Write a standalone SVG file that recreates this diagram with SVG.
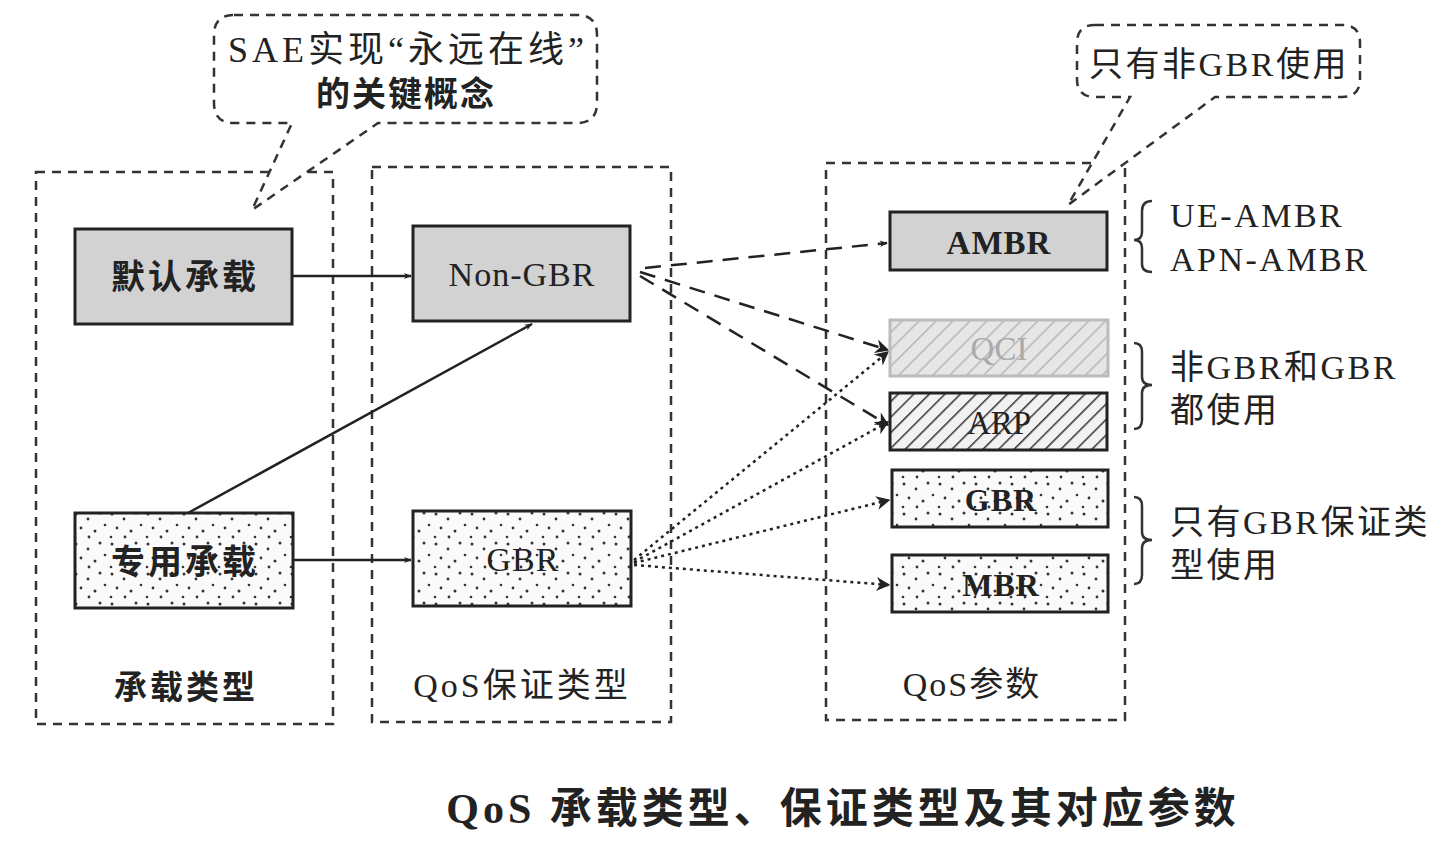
<svg xmlns="http://www.w3.org/2000/svg" width="1444" height="848" viewBox="0 0 1444 848">
<style>
.frame{fill:none;stroke:#333;stroke-width:2.5;stroke-dasharray:9 7}
.callout{fill:#fff;stroke:#333;stroke-width:2.5;stroke-dasharray:9 7}
.box{stroke:#222;stroke-width:3}
.gray{fill:#d2d2d2}
.t{font-family:"Liberation Serif","Noto Sans CJK SC",serif;fill:#222;text-anchor:middle}
.cn{font-family:"Noto Sans CJK SC","Liberation Serif",sans-serif;fill:#222;text-anchor:middle}
.lbl{font-family:"Liberation Serif","Noto Sans CJK SC",serif;fill:#222;font-size:34px;letter-spacing:2.5px}
.solid{stroke:#222;stroke-width:2.5;fill:none}
.dash{stroke:#222;stroke-width:2.5;fill:none;stroke-dasharray:16 10}
.dot{stroke:#222;stroke-width:2.5;fill:none;stroke-dasharray:3 4}
.brace{stroke:#333;stroke-width:2.5;fill:none}
</style>
<defs>
<marker id="ah" viewBox="0 0 10 10" refX="9" refY="5" markerWidth="8" markerHeight="8" markerUnits="userSpaceOnUse" orient="auto"><path d="M0,1 L10,5 L0,9 L3,5 Z" fill="#222"/></marker>
<marker id="ah2" viewBox="0 0 10 10" refX="9" refY="5" markerWidth="20" markerHeight="14" markerUnits="userSpaceOnUse" orient="auto"><path d="M0,0 L10,5 L0,10 L3,5 Z" fill="#222"/></marker>
<pattern id="hatchL" width="12" height="12" patternUnits="userSpaceOnUse" patternTransform="rotate(45)"><rect width="12" height="12" fill="#e6e6e6"/><line x1="0" y1="0" x2="0" y2="12" stroke="#b5b5b5" stroke-width="3"/></pattern>
<pattern id="hatchD" width="11" height="11" patternUnits="userSpaceOnUse" patternTransform="rotate(45)"><rect width="11" height="11" fill="#f2f2f2"/><line x1="0" y1="0" x2="0" y2="11" stroke="#333" stroke-width="3"/></pattern>
<pattern id="dots" width="36" height="30" patternUnits="userSpaceOnUse"><rect width="36" height="30" fill="#fafafa"/><circle cx="4" cy="4" r="1.5" fill="#333"/><circle cx="16" cy="9" r="1.4" fill="#333"/><circle cx="28" cy="3" r="1.5" fill="#333"/><circle cx="9" cy="18" r="1.4" fill="#333"/><circle cx="23" cy="21" r="1.5" fill="#333"/><circle cx="33" cy="15" r="1.3" fill="#333"/><circle cx="3" cy="27" r="1.3" fill="#333"/><circle cx="17" cy="27" r="1.4" fill="#333"/></pattern>
</defs>
<rect width="1444" height="848" fill="#fff"/>

<g id="frames">
<rect class="frame" x="36" y="172" width="297" height="552"/>
<rect class="frame" x="372" y="167" width="299" height="555"/>
<rect class="frame" x="826" y="163" width="299" height="557"/>
<text class="cn" x="186" y="699" font-size="33" font-weight="bold" letter-spacing="3">承载类型</text>
<text class="t" x="522" y="697" font-size="34" letter-spacing="3">QoS保证类型</text>
<text class="t" x="972" y="696" font-size="34" letter-spacing="2">QoS参数</text>
</g>

<g id="callout1">
<path class="callout" d="M234,15 H577 Q597,15 597,35 V103 Q597,123 577,123 H378 L252,210 L292,123 H234 Q214,123 214,103 V35 Q214,15 234,15 Z"/>
<text class="t" x="408" y="62" font-size="36" letter-spacing="4">SAE实现“永远在线”</text>
<text class="cn" x="406" y="106" font-size="34" font-weight="bold" letter-spacing="2">的关键概念</text>
</g>

<g id="callout2">
<path class="callout" d="M1095,25 H1342 Q1360,25 1360,43 V79 Q1360,97 1342,97 H1215 L1068,205 L1130,97 H1095 Q1077,97 1077,79 V43 Q1077,25 1095,25 Z"/>
<text class="t" x="1219" y="76" font-size="34" letter-spacing="2.5">只有非GBR使用</text>
</g>

<g id="connectors">
<line class="solid" x1="292" y1="276" x2="411" y2="276" marker-end="url(#ah)"/>
<line class="solid" x1="293" y1="560" x2="411" y2="560" marker-end="url(#ah)"/>
<line class="solid" x1="188" y1="513" x2="532" y2="324" marker-end="url(#ah)"/>
<line class="dash" x1="645" y1="268" x2="887" y2="243" marker-end="url(#ah)"/>
<line class="dash" x1="640" y1="272" x2="888" y2="350" marker-end="url(#ah2)"/>
<line class="dash" x1="640" y1="276" x2="888" y2="425" marker-end="url(#ah2)"/>
<line class="dot" x1="634" y1="560" x2="888" y2="352" marker-end="url(#ah2)"/>
<line class="dot" x1="634" y1="562" x2="888" y2="422" marker-end="url(#ah2)"/>
<line class="dot" x1="634" y1="563" x2="889" y2="500" marker-end="url(#ah2)"/>
<line class="dot" x1="634" y1="565" x2="889" y2="585" marker-end="url(#ah2)"/>
</g>

<g id="n-default">
<rect class="box gray" x="75" y="229" width="217" height="95"/>
<text class="cn" x="185" y="289" font-size="34" font-weight="bold" letter-spacing="3">默认承载</text>
</g>
<g id="n-dedicated">
<rect class="box" fill="url(#dots)" x="75" y="513" width="218" height="95"/>
<text class="cn" x="185" y="574" font-size="34" font-weight="bold" letter-spacing="3">专用承载</text>
</g>
<g id="n-nongbr">
<rect class="box gray" x="413" y="226" width="217" height="95"/>
<text class="t" x="522" y="286" font-size="34" letter-spacing="1">Non-GBR</text>
</g>
<g id="n-gbr">
<rect class="box" fill="url(#dots)" x="413" y="511" width="218" height="95"/>
<text class="t" x="523" y="571" font-size="34" letter-spacing="1">GBR</text>
</g>
<g id="p-ambr">
<rect class="box gray" x="890" y="212" width="217" height="58"/>
<text class="t" x="999" y="254" font-size="33" font-weight="bold" letter-spacing="1">AMBR</text>
</g>
<g id="p-qci">
<rect x="890" y="320" width="218" height="56" fill="url(#hatchL)" stroke="#bbb" stroke-width="3"/>
<text class="t" x="999" y="360" font-size="33" style="fill:#aaa">QCI</text>
</g>
<g id="p-arp">
<rect class="box" fill="url(#hatchD)" x="890" y="393" width="217" height="57"/>
<text class="t" x="999" y="434" font-size="33">ARP</text>
</g>
<g id="p-gbr">
<rect class="box" fill="url(#dots)" x="892" y="470" width="216" height="57"/>
<text class="t" x="1001" y="511" font-size="32" font-weight="bold" letter-spacing="1">GBR</text>
</g>
<g id="p-mbr">
<rect class="box" fill="url(#dots)" x="892" y="555" width="216" height="57"/>
<text class="t" x="1001" y="596" font-size="32" font-weight="bold" letter-spacing="1">MBR</text>
</g>

<g id="annotations">
<path class="brace" d="M1152,201 Q1142,201 1142,211 V232 Q1142,240 1134,240 Q1142,240 1142,248 V264 Q1142,272 1152,272"/>
<text class="lbl" x="1170" y="227" letter-spacing="1">UE-AMBR</text>
<text class="lbl" x="1170" y="271" letter-spacing="1">APN-AMBR</text>
<path class="brace" d="M1134,343 Q1142,343 1142,352 V377 Q1142,385 1152,385 Q1142,385 1142,393 V420 Q1142,429 1134,429"/>
<text class="lbl" x="1170" y="379">非GBR和GBR</text>
<text class="lbl" x="1170" y="422">都使用</text>
<path class="brace" d="M1134,497 Q1142,497 1142,506 V532 Q1142,540 1152,540 Q1142,540 1142,548 V575 Q1142,584 1134,584"/>
<text class="lbl" x="1170" y="534">只有GBR保证类</text>
<text class="lbl" x="1170" y="577">型使用</text>
</g>

<g id="caption">
<text class="t" x="843" y="823" font-size="42" font-weight="bold" letter-spacing="4">QoS 承载类型、保证类型及其对应参数</text>
</g>
</svg>
